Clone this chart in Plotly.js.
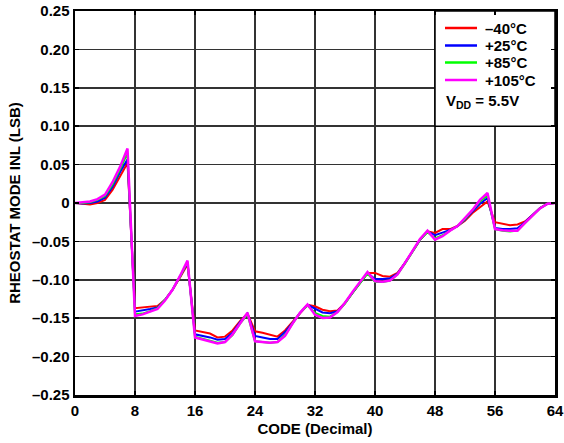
<!DOCTYPE html>
<html>
<head>
<meta charset="utf-8">
<script src="https://cdn.plot.ly/plotly-3.0.1.min.js"></script>
<style>html,body{margin:0;padding:0;background:#fff;}#chart{width:564px;height:443px;}</style>
</head>
<body>
<div id="chart"></div>
<script>
var codes = [];
for (var i = 0; i <= 64; i++) codes.push(i);

var seriesNames = ['\u201340\u00B0C', '+25\u00B0C', '+85\u00B0C', '+105\u00B0C'];
var seriesColors = ['#ff0000', '#0000ff', '#00ff00', '#ff00ff'];

var inlM40 = [0,-0.001,-0.002,0.000,0.004,0.017,0.034,0.052,
  -0.137,-0.136,-0.135,-0.134,-0.126,-0.113,-0.097,-0.080,
  -0.166,-0.168,-0.170,-0.175,-0.174,-0.166,-0.154,-0.144,
  -0.167,-0.169,-0.172,-0.174,-0.166,-0.155,-0.143,-0.1325,
  -0.1345,-0.139,-0.141,-0.140,-0.130,-0.117,-0.104,-0.091,
  -0.091,-0.095,-0.096,-0.091,-0.078,-0.063,-0.048,-0.037,
  -0.039,-0.034,-0.034,-0.030,-0.023,-0.013,-0.005,0.002,
  -0.025,-0.027,-0.029,-0.028,-0.024,-0.0155,-0.0065,-0.001,0];

var inl25 = [0,-0.0005,0,0.002,0.007,0.021,0.040,0.057,
  -0.1415,-0.140,-0.138,-0.136,-0.126,-0.113,-0.096,-0.078,
  -0.171,-0.173,-0.175,-0.178,-0.177,-0.169,-0.155,-0.144,
  -0.173,-0.175,-0.177,-0.177,-0.168,-0.156,-0.143,-0.1325,
  -0.138,-0.1425,-0.1435,-0.141,-0.130,-0.117,-0.104,-0.091,
  -0.099,-0.099,-0.098,-0.092,-0.078,-0.063,-0.048,-0.037,
  -0.042,-0.0385,-0.035,-0.030,-0.022,-0.011,-0.001,0.0065,
  -0.0325,-0.034,-0.034,-0.033,-0.025,-0.0155,-0.0065,-0.001,0];

var inl85 = [0,0,0.001,0.004,0.009,0.024,0.044,0.065,
  -0.145,-0.144,-0.141,-0.137,-0.126,-0.113,-0.096,-0.077,
  -0.174,-0.177,-0.180,-0.182,-0.181,-0.172,-0.157,-0.145,
  -0.180,-0.181,-0.182,-0.181,-0.172,-0.157,-0.143,-0.1335,
  -0.143,-0.147,-0.148,-0.142,-0.131,-0.117,-0.104,-0.092,
  -0.103,-0.103,-0.101,-0.093,-0.079,-0.063,-0.048,-0.038,
  -0.046,-0.042,-0.036,-0.030,-0.021,-0.010,0.002,0.010,
  -0.034,-0.036,-0.037,-0.036,-0.026,-0.016,-0.007,-0.001,0];

var inl105 = [0,0.001,0.002,0.005,0.011,0.027,0.047,0.071,
  -0.147,-0.145,-0.142,-0.138,-0.127,-0.113,-0.095,-0.075,
  -0.175,-0.178,-0.181,-0.183,-0.181,-0.171,-0.157,-0.143,
  -0.180,-0.181,-0.182,-0.181,-0.173,-0.157,-0.143,-0.132,
  -0.1455,-0.1497,-0.149,-0.142,-0.130,-0.116,-0.103,-0.090,
  -0.102,-0.1025,-0.101,-0.093,-0.078,-0.062,-0.047,-0.036,
  -0.0477,-0.0433,-0.036,-0.030,-0.020,-0.009,0.004,0.013,
  -0.034,-0.0355,-0.036,-0.036,-0.026,-0.016,-0.007,-0.001,0];

var xTickVals = [0, 8, 16, 24, 32, 40, 48, 56, 64];
var yTickVals = [0.25, 0.20, 0.15, 0.10, 0.05, 0, -0.05, -0.10, -0.15, -0.20, -0.25];
var yTickText = ['0.25','0.20','0.15','0.10','0.05','0','\u20130.05','\u20130.10','\u20130.15','\u20130.20','\u20130.25'];

var allSeries = [inlM40, inl25, inl85, inl105];
var traces = allSeries.map(function (ys, k) {
  return {
    x: codes, y: ys, type: 'scatter', mode: 'lines',
    name: seriesNames[k],
    line: {color: seriesColors[k], width: k === 3 ? 2.5 : 2},
    hoverinfo: 'skip', showlegend: false
  };
});

var FONT = 'Liberation Sans, Arial, Helvetica, sans-serif';
var W = 564, H = 443, ML = 75, MR = 9, MT = 11, MB = 48;
var PW = W - ML - MR, PH = H - MT - MB;
function px(xp) { return (xp - ML) / PW; }
function py(yp) { return (H - MB - yp) / PH; }

// legend box (white, framed) drawn over the gridlines
var shapes = [{
  type: 'rect', xref: 'x', yref: 'y', x0: 48, x1: 64, y0: 0.10, y1: 0.25,
  fillcolor: '#ffffff', line: {color: '#000', width: 1.5}, layer: 'between'
}];
var annotations = [];
var rowY = [28, 45.5, 62.5, 80];
seriesNames.forEach(function (nm, k) {
  shapes.push({
    type: 'line', xref: 'paper', yref: 'paper',
    x0: px(445), x1: px(477), y0: py(rowY[k]), y1: py(rowY[k]),
    line: {color: seriesColors[k], width: 2.5}
  });
  annotations.push({
    xref: 'paper', yref: 'paper', x: px(483), y: py(rowY[k]),
    xanchor: 'left', yanchor: 'middle', showarrow: false,
    text: '<b>' + nm + '</b>', font: {family: FONT, size: 15, color: '#000'}
  });
});
annotations.push({
  xref: 'paper', yref: 'paper', x: px(444), y: py(102),
  xanchor: 'left', yanchor: 'middle', showarrow: false,
  text: '<b>V<sub>DD</sub> = 5.5V</b>', font: {family: FONT, size: 15, color: '#000'}
});

var layout = {
  width: W, height: H,
  margin: {l: ML, r: MR, t: MT, b: MB, pad: 0},
  paper_bgcolor: '#ffffff', plot_bgcolor: '#ffffff',
  font: {family: FONT, size: 15, color: '#000'},
  showlegend: false,
  xaxis: {
    range: [0, 64], tickvals: xTickVals, ticktext: xTickVals.map(String),
    showgrid: true, gridcolor: '#333', gridwidth: 1.5,
    zeroline: false, showline: true, linecolor: '#000', linewidth: 2.5, mirror: 'ticks',
    ticks: 'inside', ticklen: 4, tickcolor: '#000', tickwidth: 1.5,
    tickfont: {family: FONT, size: 15, weight: 'bold'},
    title: {text: 'CODE (Decimal)', font: {family: FONT, size: 15, weight: 'bold'}, standoff: 6}
  },
  yaxis: {
    range: [-0.25, 0.25], tickvals: yTickVals, ticktext: yTickText,
    showgrid: true, gridcolor: '#333', gridwidth: 1.5,
    zeroline: false, showline: true, linecolor: '#000', linewidth: 2.5, mirror: 'ticks',
    ticks: 'inside', ticklen: 4, tickcolor: '#000', tickwidth: 1.5,
    tickfont: {family: FONT, size: 15, weight: 'bold'},
    title: {text: 'RHEOSTAT MODE INL (LSB)', font: {family: FONT, size: 15, weight: 'bold'}, standoff: 8}
  },
  shapes: shapes,
  annotations: annotations
};

Plotly.newPlot('chart', traces, layout, {staticPlot: true, displayModeBar: false});
</script>
</body>
</html>
